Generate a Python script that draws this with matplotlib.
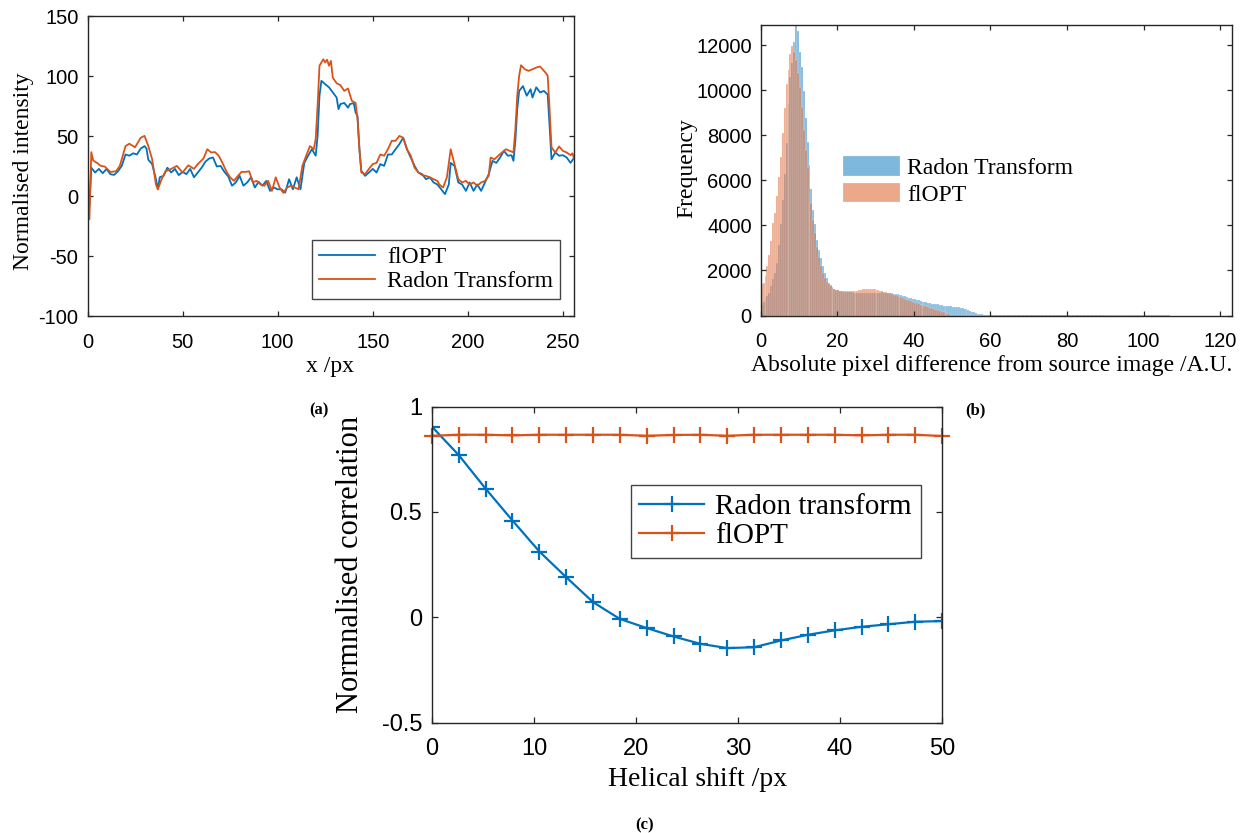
import numpy as np
import matplotlib
matplotlib.use('Agg')
import matplotlib.pyplot as plt

SERIF = ['Liberation Serif', 'DejaVu Serif']
SANS = ['Liberation Sans', 'DejaVu Sans']
BLUE = '#0072BD'
ORANGE = '#D95319'

plt.rcParams['font.family'] = SANS
plt.rcParams['axes.unicode_minus'] = False

# ---- (a) line profiles ----
radon_x = [0, 1, 2, 3, 5, 7, 9, 12, 15, 17,
           20, 22, 25, 28, 30, 32, 34, 36, 37, 39,
           41, 44, 47, 50, 53, 56, 58, 61, 63, 65,
           67, 69, 71, 73, 75, 77, 79, 81, 83, 85,
           87, 89, 91, 93, 95, 97, 99, 101, 103, 105,
           107, 109, 111, 113, 115, 117, 119, 120, 121, 122,
           124, 125, 126, 127, 128, 129, 131, 133, 135, 137,
           139, 141, 142, 143, 144, 146, 148, 150, 152, 154,
           156, 158, 160, 162, 164, 166, 168, 170, 172, 174,
           176, 178, 180, 182, 184, 185, 187, 189, 191, 193,
           195, 197, 199, 201, 203, 205, 207, 209, 211, 212,
           214, 216, 218, 220, 222, 224, 225, 226, 227, 228,
           230, 232, 234, 236, 238, 240, 241, 242, 243, 244,
           246, 248, 250, 252, 254, 255, 256]
radon_y = [-9, -19, 37, 30, 28, 25.5, 25, 20.5, 21, 25.5,
           42, 44, 41, 49, 50.5, 42, 31, 10, 6, 14.5,
           21, 23, 25.5, 20, 26, 23, 27, 31.7, 39.4, 36.7,
           37, 34, 28, 21, 16, 13, 17, 20.5, 20.5, 21,
           12, 13, 10, 9, 13, 4.7, 16, 7.5, 3, 7.5,
           9, 7.5, 6, 25.5, 34, 42, 39.4, 48, 75.5, 109,
           114.4, 111.7, 114, 109, 113, 99, 94.4, 92.8, 88, 90,
           79.7, 78, 64.4, 39.4, 20, 18.6, 23, 27, 28, 35,
           34, 39.4, 46.4, 46.4, 50.5, 49, 39.4, 34, 24, 20,
           17.8, 17.2, 16, 14.4, 13, 10, 7.5, 16, 39.4, 27,
           14.4, 11.7, 13, 10, 11.7, 9, 11.7, 13, 17.2, 32.5,
           31, 34, 36.7, 39.4, 38, 36.7, 56, 84, 100.6, 109.4,
           106, 104.7, 106, 107.5, 108.3, 104.7, 103, 100.6, 72.8, 41,
           36.7, 41.7, 38, 36.7, 34.4, 36, 31]

flopt_x = [0, 1, 2, 4, 6, 8, 10, 12, 14, 16,
           18, 20, 22, 24, 26, 28, 30, 31, 32, 34,
           36, 37, 38, 40, 42, 44, 46, 48, 50, 52,
           54, 56, 58, 60, 62, 64, 66, 68, 70, 72,
           74, 76, 78, 80, 82, 84, 86, 88, 90, 92,
           94, 96, 98, 100, 102, 104, 106, 108, 110, 112,
           114, 116, 118, 120, 121, 122, 123, 125, 127, 129,
           131, 132, 133, 135, 137, 138, 140, 141, 142, 143,
           144, 146, 148, 150, 152, 154, 156, 158, 160, 162,
           164, 166, 168, 170, 172, 174, 176, 178, 180, 182,
           184, 186, 188, 190, 191, 193, 195, 197, 199, 201,
           203, 205, 207, 209, 211, 213, 215, 217, 219, 221,
           223, 224, 225, 226, 227, 229, 231, 233, 234, 236,
           238, 240, 242, 243, 244, 246, 248, 250, 252, 254,
           256]
flopt_y = [-5, -8, 24, 20, 23, 19.4, 23, 18.6, 18, 21,
           25.5, 35, 34, 36, 35, 40, 42, 40, 30.6, 27,
           14.4, 6, 16, 17.2, 24, 20, 23, 17.8, 20.5, 18.6,
           23, 16, 20, 24, 29, 31.7, 32.5, 25, 25.5, 20.5,
           16.7, 9, 11.7, 17.2, 9, 11.7, 16, 7.5, 12.2, 9,
           13, 4.7, 7.5, 6, 6, 3.3, 14.4, 6, 16, 6,
           28, 34, 39.4, 34, 50.5, 84, 96.4, 93.6, 91, 86.7,
           82.5, 72.8, 77, 78, 74, 77, 77.8, 70, 67, 39.4,
           21.4, 17.2, 20, 23, 20, 27, 25.5, 35, 35, 39.4,
           43.6, 49, 39.4, 32.5, 25.5, 20, 18.6, 14.4, 16, 11.7,
           10, 6, 2, 10, 28, 25.5, 11.7, 10, 4.7, 11.7,
           4.7, 10, 4.7, 11.7, 18.6, 29.7, 28, 32.5, 38, 34,
           34.4, 29.7, 46.4, 72.8, 88, 92, 84, 89.4, 82.5, 91,
           86.7, 88, 85, 59, 31, 36.7, 34, 34.4, 32.5, 28,
           32.5]

# ---- (b) histogram counts, bins of 0.5 from 0 to 60 ----
bin_width = 0.5
radon_counts = [450, 600, 720, 860, 1000, 1300, 1600, 1900, 2350, 3150,
                4050, 5150, 6300, 7650, 9400, 10600, 11200, 12150, 12900, 12650,
                11700, 11050, 9950, 8750, 7700, 6700, 5600, 4700, 4050, 3350,
                2900, 2550, 2200, 1900, 1680, 1450, 1350, 1270, 1190, 1150,
                1120, 1090, 1080, 1060, 1050, 1040, 1030, 1030, 1020, 1020,
                1010, 1000, 1010, 1000, 1000, 990, 1000, 990, 1000, 1010,
                1020, 1010, 1020, 1030, 1020, 1010, 1000, 990, 980, 970,
                960, 950, 930, 900, 870, 850, 820, 790, 760, 740,
                720, 700, 680, 650, 620, 600, 580, 560, 540, 530,
                510, 500, 490, 470, 460, 440, 430, 420, 410, 400,
                390, 380, 370, 360, 350, 330, 300, 270, 240, 200,
                170, 140, 110, 80, 60, 45, 35, 30, 25, 20]
flopt_counts = [1400, 1450, 1750, 2200, 2700, 3300, 4100, 4550, 5300, 6150,
                7050, 8100, 9200, 10300, 10900, 11600, 11950, 11700, 11350, 10750,
                10150, 9250, 8250, 7350, 6600, 5700, 5000, 4250, 3650, 3050,
                2600, 2200, 1900, 1650, 1500, 1380, 1300, 1220, 1180, 1150,
                1120, 1100, 1090, 1080, 1070, 1080, 1070, 1090, 1080, 1100,
                1110, 1120, 1150, 1160, 1170, 1180, 1190, 1180, 1170, 1160,
                1140, 1120, 1100, 1080, 1060, 1040, 1020, 990, 960, 930,
                900, 870, 840, 800, 770, 730, 700, 670, 630, 600,
                570, 540, 510, 480, 450, 420, 400, 370, 350, 320,
                290, 260, 230, 200, 170, 140, 110, 80, 55, 40,
                30, 25, 22, 20, 20, 18, 18, 16, 16, 15,
                15, 14, 14, 14, 13, 13, 12, 12, 12, 12]
# sparse tails, bins of 1 from 60
radon_tail = [30, 28, 27, 25, 26, 24, 22, 24, 23, 22,
              22, 20, 21, 20, 18, 20, 19, 18, 20, 17,
              18, 16, 18, 17, 16, 18, 15, 16, 14, 15,
              16, 14, 13, 15, 14, 13, 12, 14, 13, 12,
              11, 13, 12, 10, 11, 10, 8]
flopt_tail = [12, 15, 25, 30, 26, 18, 15, 18, 16, 15,
              18, 16, 20, 24, 26, 28, 30, 32, 28, 30,
              32, 30, 28, 32, 30, 28, 25, 22, 18, 12]

# ---- (c) helical shift ----
shift = [0, 2.63, 5.26, 7.89, 10.53, 13.16, 15.79, 18.42, 21.05, 23.68,
         26.32, 28.95, 31.58, 34.21, 36.84, 39.47, 42.11, 44.74, 47.37, 50]
corr_radon = [0.904, 0.769, 0.610, 0.459, 0.312, 0.190, 0.072, -0.008, -0.051, -0.091,
              -0.126, -0.146, -0.142, -0.110, -0.083, -0.062, -0.045, -0.033, -0.021, -0.018]
corr_flopt = [0.861, 0.866, 0.866, 0.863, 0.866, 0.866, 0.866, 0.866, 0.861, 0.865,
              0.866, 0.861, 0.866, 0.866, 0.866, 0.866, 0.863, 0.866, 0.866, 0.860]

W, H = 1246.0, 833.0


def px_text(x, y, s, **kw):
    fig.text(x / W, 1 - y / H, s, ha='center', va='center', **kw)


def style(ax, size, length, xpad, ypad):
    for sp in ax.spines.values():
        sp.set_linewidth(1.0)
        sp.set_color('#262626')
    ax.tick_params(direction='in', top=True, right=True, length=length,
                   width=0.9, color='#262626', labelsize=size)
    ax.tick_params(axis='x', pad=xpad)
    ax.tick_params(axis='y', pad=ypad)


fig = plt.figure(figsize=(12.46, 8.33), dpi=100)

# (a)
axa = fig.add_axes([87.5 / W, 1 - 316.5 / H, 486.8 / W, 300 / H])
axa.plot(flopt_x, flopt_y, color=BLUE, lw=1.3, label='flOPT')
axa.plot(radon_x, radon_y, color=ORANGE, lw=1.3, label='Radon Transform')
axa.set_xlim(0, 256)
axa.set_ylim(-100, 150)
axa.set_xticks(np.arange(0, 251, 50))
axa.set_yticks(np.arange(-100, 151, 50))
style(axa, 14.5, 3.6, 12, 6.5)
lga = axa.legend(loc='lower right', bbox_to_anchor=(0.971, 0.058), borderaxespad=0,
                 prop={'family': SERIF, 'size': 17}, fancybox=False, framealpha=1,
                 edgecolor='#444444', handlelength=2.4, labelspacing=0.1,
                 handletextpad=0.5, borderpad=0.3)
lga.get_frame().set_linewidth(1.0)
px_text(23, 171, 'Normalised intensity', rotation=90, family=SERIF, size=17)
px_text(330, 366, 'x /px', family=SERIF, size=17)

# (b)
axb = fig.add_axes([760.7 / W, 1 - 315.5 / H, 471 / W, 290.5 / H])
edges = np.arange(len(radon_counts)) * bin_width
tail_edges_r = 60 + np.arange(len(radon_tail))
tail_edges_f = 60 + np.arange(len(flopt_tail))
axb.bar(edges, radon_counts, width=bin_width, align='edge', color=BLUE, alpha=0.5,
        edgecolor='white', linewidth=0.3, label='Radon Transform')
axb.bar(tail_edges_r, radon_tail, width=1, align='edge', color=BLUE, alpha=0.5,
        edgecolor='white', linewidth=0.3)
axb.bar(edges, flopt_counts, width=bin_width, align='edge', color=ORANGE, alpha=0.5,
        edgecolor='white', linewidth=0.3, label='flOPT')
axb.bar(tail_edges_f, flopt_tail, width=1, align='edge', color=ORANGE, alpha=0.5,
        edgecolor='white', linewidth=0.3)
axb.set_xlim(0, 123)
axb.set_ylim(0, 12900)
axb.set_xticks(np.arange(0, 121, 20))
axb.set_yticks(np.arange(0, 12001, 2000))
style(axb, 14.5, 3.6, 12, 6.5)
axb.legend(loc='upper left', bbox_to_anchor=(0.175, 0.548), borderaxespad=0,
           prop={'family': SERIF, 'size': 17}, frameon=False, handlelength=2.4,
           handleheight=0.9, labelspacing=0.14, handletextpad=0.3, borderpad=0)
px_text(687, 168, 'Frequency', rotation=90, family=SERIF, size=17)
px_text(992, 365, 'Absolute pixel difference from source image /A.U.', family=SERIF, size=17)

# (c)
axc = fig.add_axes([432 / W, 1 - 722.7 / H, 510 / W, 316.2 / H])
axc.plot(shift, corr_radon, color=BLUE, lw=1.6, marker='+', ms=11, mew=1.6,
         label='Radon transform')
axc.plot(shift, corr_flopt, color=ORANGE, lw=1.6, marker='+', ms=11, mew=1.6,
         label='flOPT', clip_on=False)
axc.set_xlim(0, 50)
axc.set_ylim(-0.5, 1)
axc.set_xticks(np.arange(0, 51, 10))
axc.set_yticks([-0.5, 0, 0.5, 1])
axc.set_yticklabels(['-0.5', '0', '0.5', '1'])
style(axc, 17, 4.3, 11, 7)
lgc = axc.legend(loc='upper right', bbox_to_anchor=(0.958, 0.753), borderaxespad=0,
                 prop={'family': SERIF, 'size': 21}, fancybox=False, framealpha=1,
                 edgecolor='#444444', handlelength=2.2, labelspacing=0.1,
                 handletextpad=0.4, borderpad=0.3)
lgc.get_frame().set_linewidth(1.0)
px_text(350, 564, 'Normnalised correlation', rotation=90, family=SERIF, size=22)
px_text(698, 780, 'Helical shift /px', family=SERIF, size=20)

# panel tags
px_text(319, 410, '(a)', family=SERIF, size=12, weight='bold')
px_text(975, 410, '(b)', family=SERIF, size=12, weight='bold')
px_text(645, 825, '(c)', family=SERIF, size=12, weight='bold')

fig.savefig('out.png', dpi=100)
